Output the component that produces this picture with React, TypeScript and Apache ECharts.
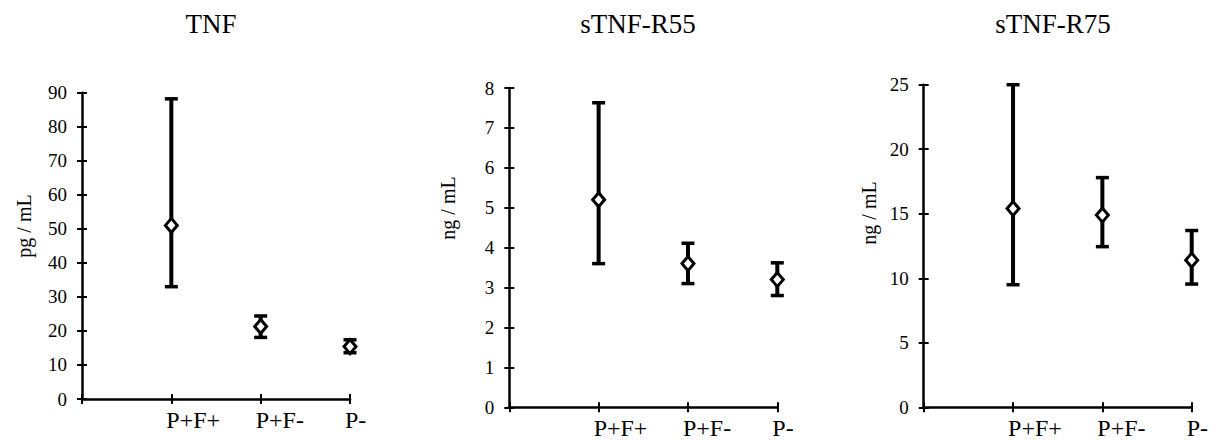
import React, { useEffect, useRef } from "react";
import * as echarts from "echarts";

const categories = ["P+F+", "P+F-", "P-"];
const titles = ["TNF", "sTNF-R55", "sTNF-R75"];
const yNames = ["pg / mL", "ng / mL", "ng / mL"];

const tnfMean = [51, 21.3, 15.4];
const tnfUpper = [88.2, 24.4, 17.4];
const tnfLower = [33, 18.1, 13.6];

const r55Mean = [5.2, 3.6, 3.2];
const r55Upper = [7.63, 4.11, 3.62];
const r55Lower = [3.6, 3.1, 2.8];

const r75Mean = [15.4, 14.9, 11.4];
const r75Upper = [25.0, 17.8, 13.7];
const r75Lower = [9.5, 12.45, 9.55];

const yMax = [90, 8, 25];
const yInterval = [10, 1, 5];

const FONT = "Liberation Serif";

export default function App() {
  const ref = useRef<HTMLDivElement>(null);
  useEffect(() => {
    if (!ref.current) return;
    const chart = echarts.init(ref.current, undefined, { renderer: "svg" });

    const panels = [
      { mean: tnfMean, upper: tnfUpper, lower: tnfLower },
      { mean: r55Mean, upper: r55Upper, lower: r55Lower },
      { mean: r75Mean, upper: r75Upper, lower: r75Lower },
    ];

    const grids = [
      { left: 82, top: 92.7, width: 268, height: 306.3 },
      { left: 509.3, top: 88, width: 268, height: 319.3 },
      { left: 923.7, top: 84.7, width: 268, height: 322.6 },
    ];

    const titlePos = [
      { x: 211, y: 24 },
      { x: 638, y: 24 },
      { x: 1053, y: 24 },
    ];
    const yNamePos = [
      { x: 24, y: 226 },
      { x: 448, y: 208 },
      { x: 869, y: 213 },
    ];

    const xAxes: any[] = [];
    const yAxes: any[] = [];
    const series: any[] = [];

    panels.forEach((p, i) => {
      xAxes.push({
        type: "value",
        gridIndex: i,
        position: "bottom",
        min: 0,
        max: 3,
        interval: 1,
        axisLine: { show: true, onZero: false, lineStyle: { color: "#000", width: 2.5 } },
        axisTick: { show: true, length: 5, lineStyle: { color: "#000", width: 2 } },
        axisLabel: {
          margin: 9,
          color: "#000",
          fontFamily: FONT,
          fontSize: 24,
          align: "left",
          padding: [0, 0, 0, -5],
          formatter: (v: number) => categories[v - 1] ?? "",
        },
        splitLine: { show: false },
      });
      xAxes.push({
        type: "value",
        gridIndex: i,
        position: "bottom",
        min: 0,
        max: 3,
        interval: 1,
        axisLine: { show: false, onZero: false },
        axisTick: { show: true, inside: true, length: 5, lineStyle: { color: "#000", width: 2 } },
        axisLabel: { show: false },
        splitLine: { show: false },
      });
      yAxes.push({
        type: "value",
        gridIndex: i,
        position: "left",
        min: 0,
        max: yMax[i],
        interval: yInterval[i],
        axisLine: { show: true, onZero: false, lineStyle: { color: "#000", width: 2.5 } },
        axisTick: { show: true, length: 5, lineStyle: { color: "#000", width: 2 } },
        axisLabel: { margin: 15, color: "#000", fontFamily: FONT, fontSize: 19 },
        splitLine: { show: false },
      });
      yAxes.push({
        type: "value",
        gridIndex: i,
        position: "left",
        min: 0,
        max: yMax[i],
        interval: yInterval[i],
        axisLine: { show: false, onZero: false },
        axisTick: { show: true, inside: true, length: 5, lineStyle: { color: "#000", width: 2 } },
        axisLabel: { show: false },
        splitLine: { show: false },
      });

      const barData = categories.map((_, k) => [k + 1, p.lower[k], p.upper[k]]);
      const meanData = categories.map((_, k) => [k + 1, p.mean[k]]);

      series.push({
        type: "custom",
        xAxisIndex: 2 * i,
        yAxisIndex: 2 * i,
        data: barData,
        encode: { x: 0, y: [1, 2] },
        z: 3,
        renderItem: (params: any, api: any) => {
          const x = api.value(0);
          const lo = api.coord([x, api.value(1)]);
          const hi = api.coord([x, api.value(2)]);
          const cap = 6.5;
          const st = { stroke: "#000", lineWidth: 4 };
          const capSt = { stroke: "#000", lineWidth: 3.5 };
          return {
            type: "group",
            children: [
              { type: "line", shape: { x1: lo[0], y1: lo[1], x2: hi[0], y2: hi[1] }, style: st },
              { type: "line", shape: { x1: hi[0] - cap, y1: hi[1], x2: hi[0] + cap, y2: hi[1] }, style: capSt },
              { type: "line", shape: { x1: lo[0] - cap, y1: lo[1], x2: lo[0] + cap, y2: lo[1] }, style: capSt },
            ],
          };
        },
      });
      series.push({
        type: "scatter",
        xAxisIndex: 2 * i,
        yAxisIndex: 2 * i,
        data: meanData,
        symbol: "diamond",
        symbolSize: [12, 14],
        z: 5,
        itemStyle: { color: "#fff", borderColor: "#000", borderWidth: 3, opacity: 1 },
      });
    });

    const graphic: any[] = [];
    titles.forEach((t, i) => {
      graphic.push({
        type: "text",
        x: titlePos[i].x,
        y: titlePos[i].y,
        style: {
          text: t,
          fill: "#000",
          fontFamily: FONT,
          fontSize: 27,
          align: "center",
          verticalAlign: "middle",
        },
      });
      graphic.push({
        type: "text",
        x: yNamePos[i].x,
        y: yNamePos[i].y,
        rotation: Math.PI / 2,
        style: {
          text: yNames[i],
          fill: "#000",
          fontFamily: FONT,
          fontSize: 20,
          align: "center",
          verticalAlign: "middle",
        },
      });
    });

    chart.setOption({
      animation: false,
      backgroundColor: "#fff",
      textStyle: { fontFamily: FONT, color: "#000" },
      grid: grids,
      xAxis: xAxes,
      yAxis: yAxes,
      series,
      graphic,
    });

    return () => chart.dispose();
  }, []);

  return (
    <div
      ref={ref}
      style={{ position: "fixed", left: 0, top: 0, width: 1218, height: 444, background: "#fff" }}
    />
  );
}
